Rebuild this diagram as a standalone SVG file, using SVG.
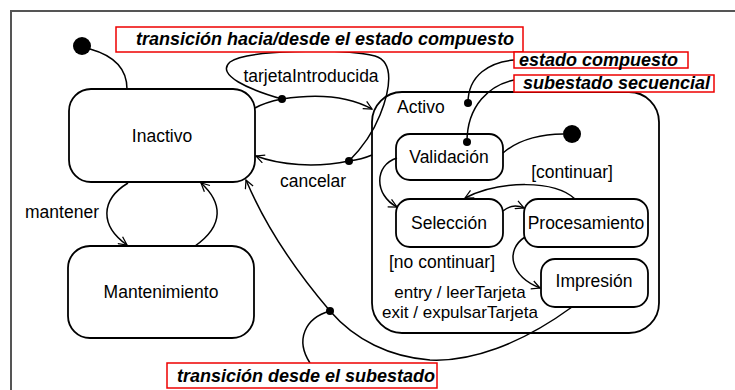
<svg xmlns="http://www.w3.org/2000/svg" width="735" height="390" viewBox="0 0 735 390">
<defs>
<marker id="arr" viewBox="0 0 12 12" refX="11" refY="6" markerWidth="10" markerHeight="10" markerUnits="userSpaceOnUse" orient="auto">
<path d="M1,1 L11,6 L1,11" fill="none" stroke="#000" stroke-width="1.5"/>
</marker>
</defs>
<style>
.st{fill:#fff;stroke:#000;stroke-width:1.8}
.lb{font-family:"Liberation Sans",Arial,sans-serif;font-size:17.5px;fill:#000}
.sm{font-size:17px}
.c{text-anchor:middle}
.note{font-family:"Liberation Sans",Arial,sans-serif;font-size:18px;font-weight:bold;font-style:italic;fill:#000}
.nb{fill:#fff;stroke:#e00;stroke-width:1.5}
.ln{fill:none;stroke:#000;stroke-width:1.5}
.ar{marker-end:url(#arr)}
</style>
<rect width="735" height="390" fill="#fff"/>
<path d="M11,390 L11,11 L735,11" fill="none" stroke="#555" stroke-width="2"/>

<g id="activo">
<rect class="st" x="372" y="92" width="287" height="241" rx="30"/>
<text class="lb" x="397" y="113">Activo</text>
<text class="lb sm c" x="460" y="298">entry / leerTarjeta</text>
<text class="lb sm c" x="460" y="318">exit / expulsarTarjeta</text>
</g>
<g id="inactivo">
<rect class="st" x="69" y="89" width="186" height="93" rx="22"/>
<text class="lb c" x="162" y="142">Inactivo</text>
</g>
<g id="mantenimiento">
<rect class="st" x="68" y="246" width="186" height="92" rx="22"/>
<text class="lb c" x="161" y="298">Mantenimiento</text>
</g>
<g id="validacion">
<rect class="st" x="396" y="134" width="107" height="46" rx="14"/>
<text class="lb c" x="449" y="163">Validación</text>
</g>
<g id="seleccion">
<rect class="st" x="396" y="199" width="107" height="48" rx="14"/>
<text class="lb c" x="449" y="229">Selección</text>
</g>
<g id="procesamiento">
<rect class="st" x="524" y="199" width="124" height="48" rx="14"/>
<text class="lb c" x="586" y="229">Procesamiento</text>
</g>
<g id="impresion">
<rect class="st" x="541" y="259" width="107" height="48" rx="14"/>
<text class="lb c" x="594" y="287">Impresión</text>
</g>
<g id="inicio">
<circle cx="82" cy="46" r="9" fill="#000"/>
</g>
<g id="inicio2">
<circle cx="572" cy="134" r="9" fill="#000"/>
</g>

<g id="connectors">
<path class="ln" d="M90,49 C115,56 127,70 127,89"/>
<path class="ln ar" d="M255,108 C262,104 272,101 282,99 C320,93 350,97 372,109"/>
<path class="ln ar" d="M372,155 C365,158 357,160 349,161 C315,168 280,165 256,156"/>
<path class="ln ar" d="M128,183 C100,200 100,226 127,245"/>
<path class="ln ar" d="M195,246 C225,225 222,202 201,183"/>
<path class="ln ar" d="M572,307 C520,345 470,362 430,360 C390,357 355,340 330,311 C295,270 265,225 246,180"/>
<path class="ln ar" d="M397,158 C374,165 374,195 397,207"/>
<path class="ln ar" d="M503,211 C510,205 517,205 524,208"/>
<path class="ln ar" d="M575,199 C555,180 500,180 465,198"/>
<path class="ln ar" d="M525,237 C505,250 510,276 540,288"/>
<path class="ln" d="M503,153 C520,138 545,134 563,134"/>
<path class="ln" d="M282,99 C250,90 215,75 230,62 C245,50 340,48 375,56 C395,62 390,90 380,115 C372,135 360,150 349,161"/>
<path class="ln" d="M468,103 C468,75 490,62 514,60"/>
<path class="ln" d="M467,142 C467,105 490,85 514,80"/>
<path class="ln" d="M330,311 C305,318 295,340 310,363"/>
<circle cx="282" cy="99" r="4" fill="#000"/>
<circle cx="349" cy="161" r="4" fill="#000"/>
<circle cx="468" cy="103" r="4" fill="#000"/>
<circle cx="467" cy="142" r="4" fill="#000"/>
<circle cx="330" cy="311" r="4" fill="#000"/>
<text class="lb c" x="311" y="82">tarjetaIntroducida</text>
<text class="lb c" x="313" y="187">cancelar</text>
<text class="lb c" x="62" y="218">mantener</text>
<text class="lb c" x="572" y="178">[continuar]</text>
<text class="lb c" x="442" y="268">[no continuar]</text>
</g>

<g id="nota1">
<rect class="nb" x="116" y="27" width="407" height="25"/>
<text class="note" x="136" y="45">transición hacia/desde el estado compuesto</text>
</g>
<g id="nota2">
<rect class="nb" x="514" y="52" width="174" height="16"/>
<text class="note" x="519" y="66">estado compuesto</text>
</g>
<g id="nota3">
<rect class="nb" x="514" y="75" width="200" height="17"/>
<text class="note" x="523" y="89">subestado secuencial</text>
</g>
<g id="nota4">
<rect class="nb" x="167" y="363" width="270" height="25"/>
<text class="note" x="177" y="382">transición desde el subestado</text>
</g>
</svg>
